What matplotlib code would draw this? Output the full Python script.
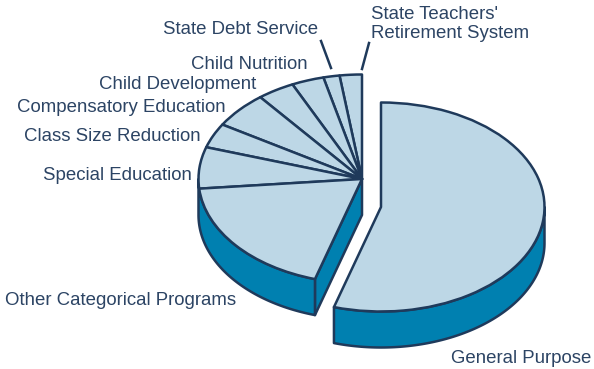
import numpy as np
import matplotlib
matplotlib.use("Agg")
import matplotlib.pyplot as plt
from matplotlib.patches import Wedge

# Budget shares in percent, clockwise from the detached slice
programs = ["General Purpose", "Other Categorical Programs", "Special Education",
            "Class Size Reduction", "Compensatory Education", "Child Development",
            "Child Nutrition", "State Debt Service", "State Teachers'\nRetirement System"]
shares = [54.7, 18.9, 6.4, 3.8, 5.6, 3.7, 3.2, 1.6, 2.2]

label_x = [451, 5, 43, 24, 17, 99, 191, 163, 371]
label_y = [358.5, 300.5, 175, 136.5, 107, 84.5, 64.5, 29, 24]

TOP = "#BDD7E6"
SIDE = "#0080B0"
LINE = "#1F3A5B"
TEXT = "#2C4464"

# The axes run in ellipse radii, so a unit Wedge renders as the tilted pie top
RX, RY, DEPTH = 163.5, 104.5, 36.0
W, H = 594, 369


def ux(px):
    return px / RX


def uy(py):
    return (H - py) / RY


fig = plt.figure(figsize=(5.94, 3.69), dpi=100)
ax = fig.add_axes([0, 0, 1, 1])
ax.set_xlim(0, W / RX)
ax.set_ylim(0, H / RY)
ax.axis("off")

values = np.array(shares, dtype=float)
degrees = values / values.sum() * 360
drop = DEPTH / RY
lw = 1.8

# Slices run counter-clockwise starting at 12 o'clock, ending with the detached one
rest_sweep = degrees[1:][::-1]
rest_edges = 90 + np.concatenate([[0], np.cumsum(rest_sweep)])
split = rest_edges[-1]
general_end = 90 + 360

rest_c = (ux(362), uy(179))
gen_c = (ux(381), uy(207))


def rim_wall(center, t1, t2):
    t = np.radians(np.linspace(t1, t2, 120))
    x = center[0] + np.cos(t)
    y = center[1] + np.sin(t)
    xs = np.concatenate([x, x[::-1]])
    ys = np.concatenate([y, y[::-1] - drop])
    ax.fill(xs, ys, facecolor=SIDE, edgecolor=LINE, lw=lw, joinstyle="round", zorder=1)


# Cut face of the main block
t = np.radians(split)
edge = (rest_c[0] + np.cos(t), rest_c[1] + np.sin(t))
ax.fill([rest_c[0], edge[0], edge[0], rest_c[0]],
        [rest_c[1], edge[1], edge[1] - drop, rest_c[1] - drop],
        facecolor=SIDE, edgecolor=LINE, lw=lw, joinstyle="round", zorder=1)

rim_wall(rest_c, 180, split)
rim_wall(gen_c, split, 360)

for t1, t2 in zip(rest_edges[:-1], rest_edges[1:]):
    ax.add_patch(Wedge(rest_c, 1, t1, t2, facecolor=TOP, edgecolor=LINE, lw=lw,
                       joinstyle="round", zorder=2))
ax.add_patch(Wedge(gen_c, 1, split, general_end, facecolor=TOP, edgecolor=LINE, lw=lw,
                   joinstyle="round", zorder=2))

# Leader lines for the two narrowest slices
ax.plot([ux(321), ux(331)], [uy(41), uy(68)], color=LINE, lw=lw, zorder=3)
ax.plot([ux(369), ux(362)], [uy(43), uy(69)], color=LINE, lw=lw, zorder=3)

for name, px, py in zip(programs, label_x, label_y):
    ax.text(ux(px), uy(py), name, family="Liberation Sans", fontsize=13.45, color=TEXT,
            ha="left", va="center", linespacing=1.1, zorder=4)

fig.savefig("out.png", dpi=100, facecolor="white")
